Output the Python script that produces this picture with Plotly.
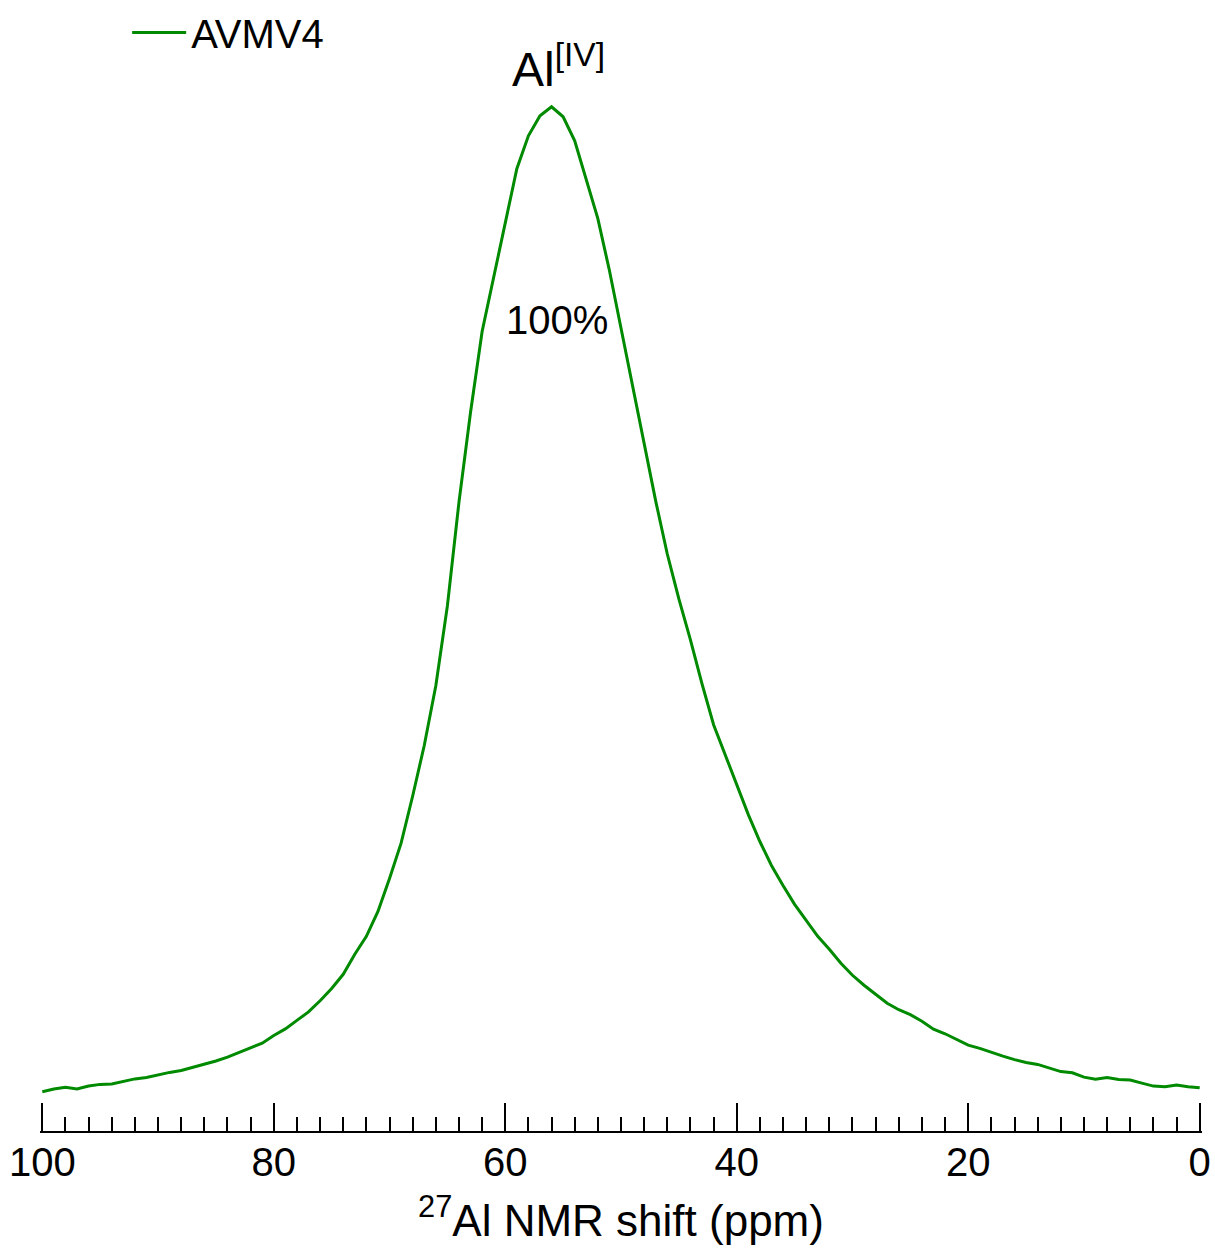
import plotly.graph_objects as go

# 27Al NMR spectrum (AVMV4)
shift_ppm = [100, 99, 98, 97, 96, 95, 94, 93, 92, 91, 90, 89, 88, 87, 86, 85, 84, 83, 82, 81,
             80, 79, 78, 77, 76, 75, 74, 73, 72, 71, 70, 69, 68, 67, 66, 65, 64, 63, 62, 61,
             60, 59, 58, 57, 56, 55, 54, 53, 52, 51, 50, 49, 48, 47, 46, 45, 44, 43, 42, 41,
             40, 39, 38, 37, 36, 35, 34, 33, 32, 31, 30, 29, 28, 27, 26, 25, 24, 23, 22, 21,
             20, 19, 18, 17, 16, 15, 14, 13, 12, 11, 10, 9, 8, 7, 6, 5, 4, 3, 2, 1, 0]
intensity = [39.3, 42, 43.8, 42, 45, 46.7, 47, 49.7, 52.2, 53.6, 56.2, 58.7, 60.6, 63.7, 67, 70.1,
             74, 78.6, 83.4, 88, 95.7, 102.3, 110.8, 119.3, 130.5, 142.8, 157, 177.1, 195, 220,
             253, 288.3, 335.6, 386.2, 446, 526, 630, 720, 801, 856, 908, 964, 997, 1017, 1026,
             1016, 992, 954, 914, 862, 804, 746, 686, 631, 578, 533, 492, 448, 407, 377, 347,
             317, 290, 266, 246, 227, 211, 195, 182, 168, 156, 146, 137, 128, 121.5, 116.5, 110,
             102, 97.4, 92, 86, 82.8, 78.5, 75, 71.5, 68.6, 66.7, 63, 59.5, 58.3, 54, 51.8, 53.5,
             51.7, 51, 48, 45, 44.4, 46, 44.4, 43.3]

series_name = "AVMV4"
major_ticks = [100, 80, 60, 40, 20, 0]
tick_labels = ["100", "80", "60", "40", "20", "0"]
peak_label = "Al<sup>[IV]</sup>"
peak_pos = [55.4, 1067]
pct_label = "100%"
pct_pos = [55.5, 812]

FONT = "Liberation Sans, Arial, Helvetica, sans-serif"

fig = go.Figure()
fig.add_trace(go.Scatter(x=shift_ppm, y=intensity, mode="lines", name=series_name,
                         line=dict(color="#008a00", width=3)))

fig.add_annotation(x=peak_pos[0], y=peak_pos[1], text=peak_label, showarrow=False,
                   font=dict(family=FONT, size=48, color="black"), xanchor="center", yanchor="middle")
fig.add_annotation(x=pct_pos[0], y=pct_pos[1], text=pct_label, showarrow=False,
                   font=dict(family=FONT, size=40, color="black"), xanchor="center", yanchor="middle")

fig.update_layout(
    width=1215, height=1252,
    margin=dict(l=40, r=13, t=0, b=121),
    paper_bgcolor="white", plot_bgcolor="white",
    font=dict(family=FONT, color="black"),
    showlegend=True,
    legend=dict(x=0.075, y=1.002, xanchor="left", yanchor="top", bgcolor="rgba(0,0,0,0)",
                itemwidth=54,
                font=dict(family=FONT, size=40, color="black")),
    xaxis=dict(
        range=[100.2, -0.2], showgrid=False, zeroline=False,
        showline=True, linecolor="black", linewidth=2,
        ticks="inside", ticklen=28, tickwidth=2, tickcolor="black",
        tickmode="array", tickvals=major_ticks, ticktext=tick_labels,
        tickfont=dict(family=FONT, size=40, color="black"),
        ticklabelstandoff=-5,
        minor=dict(ticks="inside", ticklen=14, tickwidth=2, tickcolor="black",
                   tick0=0, dtick=2, showgrid=False),
        title=dict(text="<sup>27</sup>Al NMR shift (ppm)", font=dict(family=FONT, size=44, color="black"),
                   standoff=22),
    ),
    yaxis=dict(range=[0, 1131], visible=False, showgrid=False, zeroline=False),
)

fig.write_html("out.html", config={"displayModeBar": False},
               post_script="document.body.style.margin='0px';")
